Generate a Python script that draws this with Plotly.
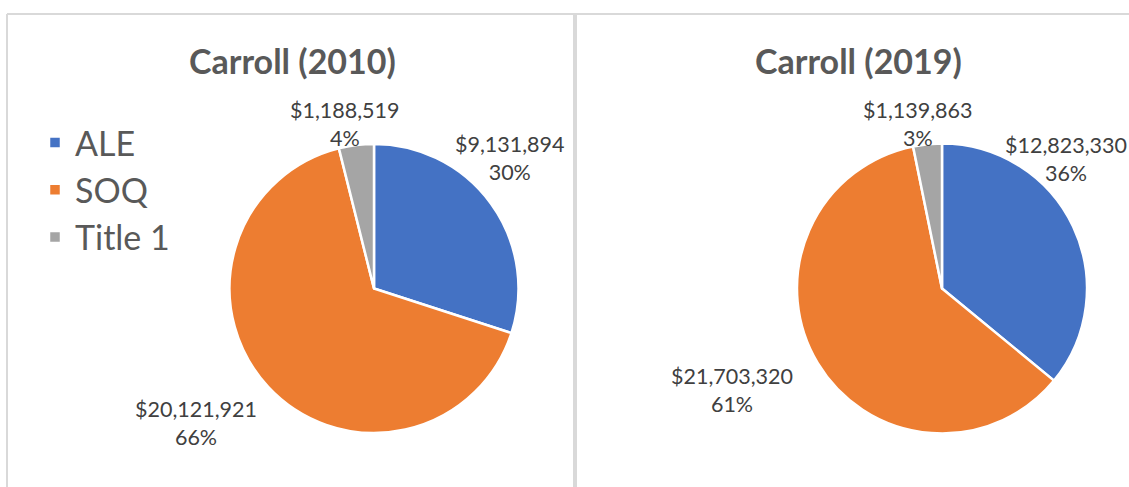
import math
import plotly.graph_objects as go

# ---- data ----
categories = ["ALE", "SOQ", "Title 1"]
values_2010 = [9131894, 20121921, 1188519]
values_2019 = [12823330, 21703320, 1139863]
titles = ["Carroll (2010)", "Carroll (2019)"]

# ---- styles ----
colors = ["#4472C4", "#ED7D31", "#A5A5A5"]
W, H = 1129, 487
FONT = "Lato"
BORDER = "#D9D9D9"

# panel layout (pixels)
panels = [
    dict(cx=374, cy=288.5, r=144.5, title_x=292, legend_x=35, legend_y=114,
         right_bound=565, top_bound=95, clear=0.9),
    dict(cx=942, cy=288.5, r=145, title_x=858, legend_x=603, legend_y=127,
         right_bound=1127, top_bound=95, clear=0.82),
]
LABEL_PX = 24  # reference label size used for box estimate
LABEL_FONT = 21.5


def px_x(x):
    return x / W


def px_y(y):
    return 1 - y / H


def text_w(s):
    n = 0.0
    for ch in s:
        n += 0.25 if ch == "," else 0.507
    return n * LABEL_PX


fig = go.Figure()
annotations = []
all_values = [values_2010, values_2019]

for i, (vals, p) in enumerate(zip(all_values, panels)):
    cx, cy, r = p["cx"], p["cy"], p["r"]
    fig.add_trace(go.Pie(
        labels=categories, values=vals, sort=False, direction="clockwise",
        rotation=0, textinfo="none", hoverinfo="label+value+percent",
        marker=dict(colors=colors, line=dict(color="white", width=2.5)),
        domain=dict(x=[px_x(cx - r), px_x(cx + r)], y=[px_y(cy + r), px_y(cy - r)]),
        legend="legend" if i == 0 else "legend2",
        showlegend=True,
    ))
    total = sum(vals)
    cum = 0
    for v in vals:
        mid = (cum + v / 2) / total * 2 * math.pi
        cum += v
        ux, uy = math.sin(mid), -math.cos(mid)
        line1 = "${:,}".format(v)
        line2 = "{}%".format(round(100 * v / total))
        w = text_w(line1)
        h = 2 * 29
        lx = cx + ux * r + ux * 1.64 * w / 2
        ly = cy + uy * r + uy * 1.8 * h / 2
        clamped = False
        if lx + w / 2 > p["right_bound"]:
            lx = p["right_bound"] - w / 2
            clamped = True
        if clamped:
            dx = abs(lx - w / 2 - cx)
            need = math.sqrt(max((p["clear"] * r) ** 2 - dx ** 2, 0))
            if uy < 0:
                ly = min(ly, cy - need - h / 2)
        if ly - h / 2 < p["top_bound"]:
            ly = p["top_bound"] + h / 2
        annotations.append(dict(
            x=px_x(lx), y=px_y(ly), xref="paper", yref="paper",
            text=line1 + "<br>" + line2, showarrow=False,
            xanchor="center", yanchor="middle", align="center",
            font=dict(family=FONT, size=LABEL_FONT, color="#404040"),
        ))
    annotations.append(dict(
        x=px_x(p["title_x"]), y=px_y(60), xref="paper", yref="paper",
        text="<b>" + titles[i] + "</b>", showarrow=False,
        xanchor="center", yanchor="middle",
        font=dict(family=FONT, size=34, color="#595959"),
    ))

shapes = [
    dict(type="line", xref="paper", yref="paper", x0=px_x(7), x1=1, y0=px_y(14), y1=px_y(14),
         line=dict(color=BORDER, width=2)),
    dict(type="line", xref="paper", yref="paper", x0=px_x(7), x1=px_x(7), y0=px_y(14), y1=0,
         line=dict(color=BORDER, width=2)),
    dict(type="line", xref="paper", yref="paper", x0=px_x(575), x1=px_x(575), y0=px_y(14), y1=0,
         line=dict(color=BORDER, width=4)),
]

legend_style = dict(font=dict(family=FONT, size=34, color="#595959"),
                    bgcolor="rgba(0,0,0,0)", borderwidth=0,
                    xanchor="left", yanchor="top", traceorder="normal")

fig.update_layout(
    width=W, height=H, margin=dict(l=0, r=0, t=0, b=0),
    paper_bgcolor="white", plot_bgcolor="white",
    annotations=annotations, shapes=shapes,
    legend=dict(x=px_x(panels[0]["legend_x"]), y=px_y(panels[0]["legend_y"]), **legend_style),
    legend2=dict(x=px_x(panels[1]["legend_x"]), y=px_y(panels[1]["legend_y"]), **legend_style),
)

fig.write_html(
    "out.html",
    config={"displayModeBar": False},
    post_script="document.body.style.margin='0';document.body.style.overflow='hidden';",
)
